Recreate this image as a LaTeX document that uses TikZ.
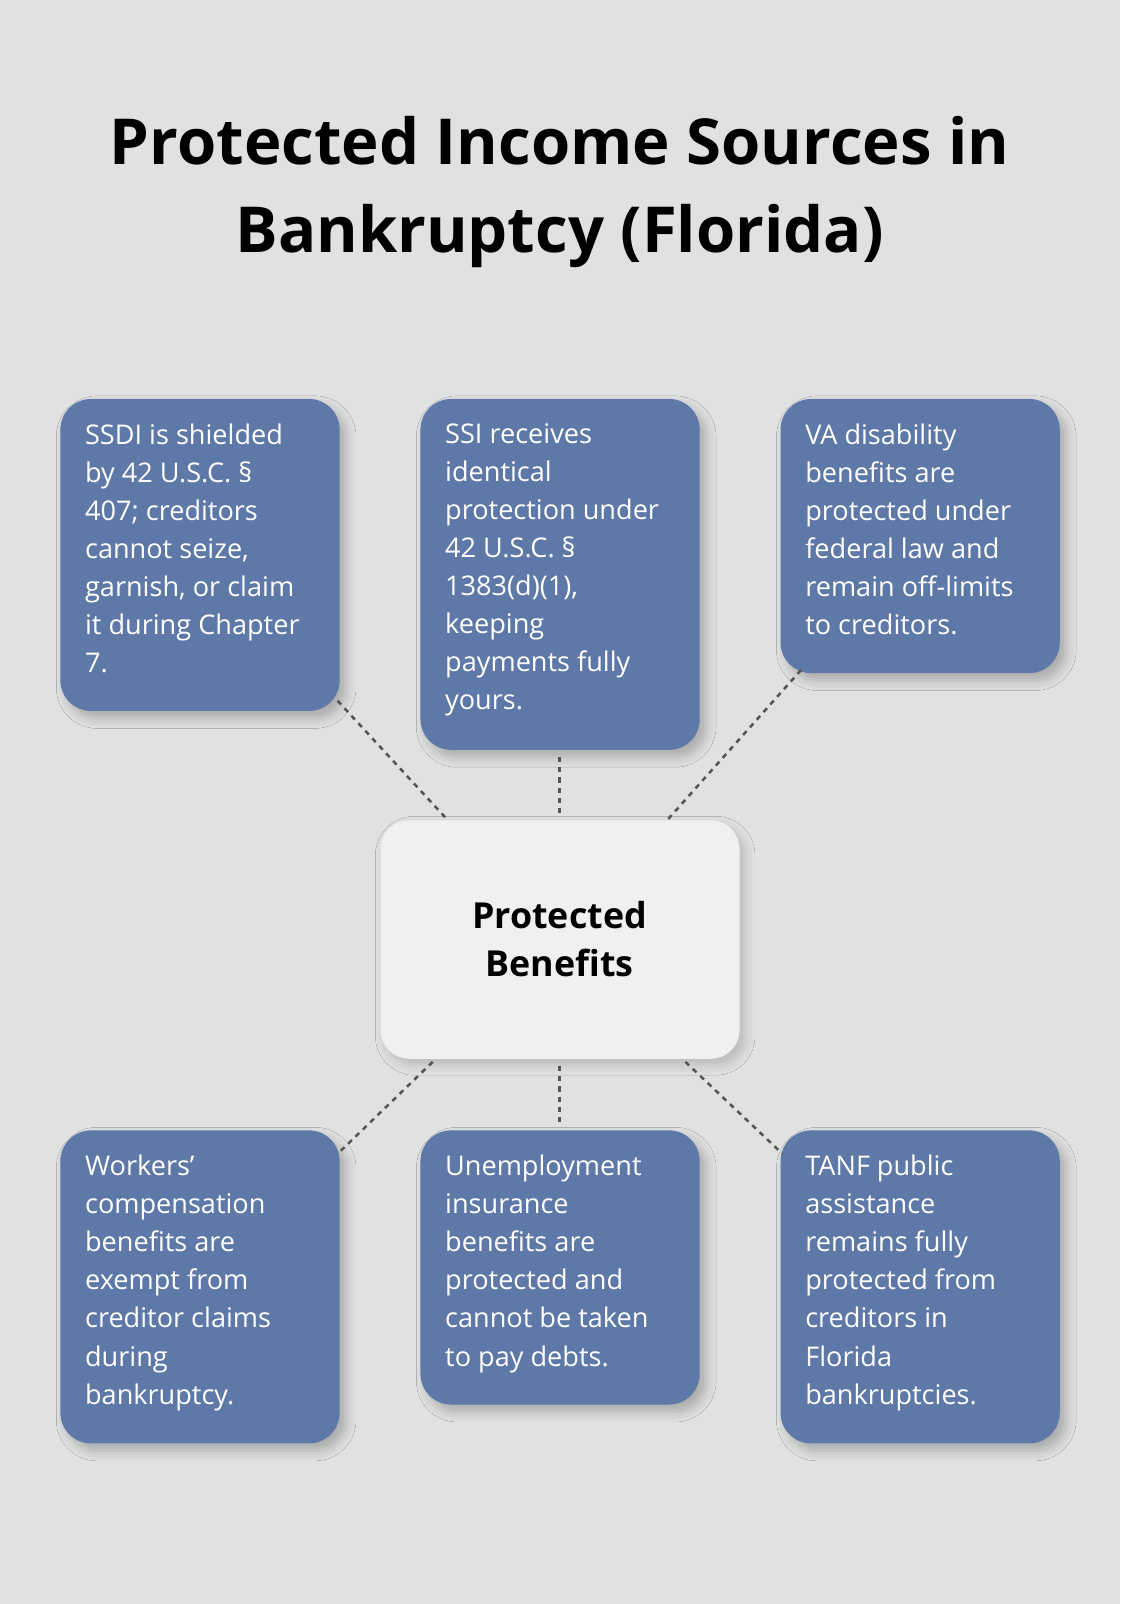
\documentclass[tikz,border=0pt]{standalone}
\usepackage{fontspec}
\setmainfont{Open Sans}
\usetikzlibrary{shadows.blur}
\definecolor{bg}{HTML}{E0E2E1}
\definecolor{boxc}{HTML}{5E78A8}
\definecolor{cen}{HTML}{EFF0F2}
\definecolor{dash}{HTML}{555555}
\begin{document}
\begin{tikzpicture}[x=1pt,y=-1pt,
  box/.style={fill=boxc,rounded corners=30pt,blur shadow={shadow xshift=6pt,shadow yshift=-7pt,shadow blur radius=10pt,shadow opacity=25}},
  txt/.style={anchor=north west,text=white,align=left,font=\fontsize{26.5}{37.2}\selectfont,inner sep=0pt},
  con/.style={draw=dash,line width=2.5pt,dash pattern=on 5pt off 5pt}]
\fill[bg] (0,0) rectangle (1095,1568);
\useasboundingbox (0,0) rectangle (1095,1568);
\node[font=\fontsize{62}{86}\selectfont\bfseries,align=center] (title) at (547,188) {Protected Income Sources in\\Bankruptcy (Florida)};
\path[box] (59,390) rectangle (332,695);
\path[box] (411,390) rectangle (684,733);
\path[box] (763,390) rectangle (1036,658);
\path[box] (59,1105) rectangle (332,1411);
\path[box] (411,1105) rectangle (684,1373);
\path[box] (763,1105) rectangle (1036,1411);
\path[fill=cen,rounded corners=28pt,blur shadow={shadow xshift=5pt,shadow yshift=-6pt,shadow blur radius=10pt,shadow opacity=18}] (372,802) rectangle (723,1035);
\node[txt] (a) at (83,414) {SSDI is shielded\\by 42 U.S.C. §\\407; creditors\\cannot seize,\\garnish, or claim\\it during Chapter\\7.};
\node[txt] (b) at (435,414) {SSI receives\\identical\\protection under\\42 U.S.C. §\\1383(d)(1),\\keeping\\payments fully\\yours.};
\node[txt] (c) at (787,414) {VA disability\\benefits are\\protected under\\federal law and\\remain off-limits\\to creditors.};
\node[txt] (d) at (83,1129) {Workers'\\compensation\\benefits are\\exempt from\\creditor claims\\during\\bankruptcy.};
\node[txt] (e) at (435,1129) {Unemployment\\insurance\\benefits are\\protected and\\cannot be taken\\to pay debts.};
\node[txt] (f) at (787,1129) {TANF public\\assistance\\remains fully\\protected from\\creditors in\\Florida\\bankruptcies.};
\node[font=\fontsize{35}{47}\selectfont\bfseries,align=center] (center) at (547,918) {Protected\\Benefits};
\coordinate (a1) at (330,685); \coordinate (c0a) at (438,802);
\coordinate (b1) at (547,740); \coordinate (c0b) at (547,797);
\coordinate (c1) at (783,655); \coordinate (c0c) at (652,802);
\coordinate (d1) at (330,1128); \coordinate (c0d) at (423,1038);
\coordinate (e1) at (547,1100); \coordinate (c0e) at (547,1042);
\coordinate (f1) at (765,1128); \coordinate (c0f) at (670,1038);
\draw[con] (a1) -- (c0a);
\draw[con] (b1) -- (c0b);
\draw[con] (c1) -- (c0c);
\draw[con] (c0d) -- (d1);
\draw[con] (c0e) -- (e1);
\draw[con] (c0f) -- (f1);
\end{tikzpicture}
\end{document}
